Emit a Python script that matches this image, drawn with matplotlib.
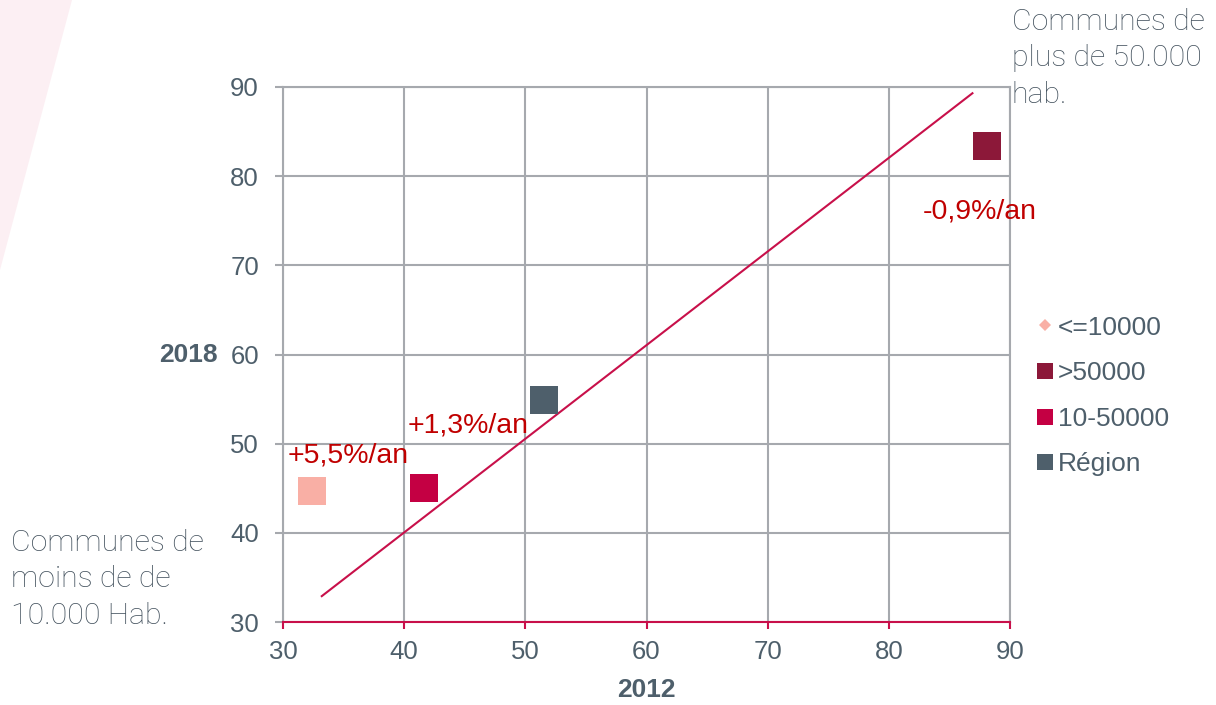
import matplotlib
matplotlib.use('Agg')
import matplotlib.pyplot as plt
from matplotlib.lines import Line2D
from matplotlib.patches import Polygon

plt.rcParams['font.family'] = ['Liberation Sans', 'DejaVu Sans']

# valeurs (2012 en x, 2018 en y)
groups = ['<=10000', '>50000', '10-50000', 'Région']
x2012 = [32.4, 88.1, 41.6, 51.5]
y2018 = [44.7, 83.4, 45.0, 54.9]
colors = ['#F9AFA5', '#8C1839', '#C40043', '#4E5F6B']
legend_markers = ['D', 's', 's', 's']

# droite de reference
ref_x = [33.2, 86.9]
ref_y = [32.9, 89.3]

ticks = [30, 40, 50, 60, 70, 80, 90]
growth = ['+5,5%/an', '+1,3%/an', '-0,9%/an']

grey = '#4E5F6B'
gridc = '#A6A9AE'
crimson = '#C8104A'

fig = plt.figure(figsize=(12.16, 7.05), dpi=100)

# bande rose du fond a gauche
fig.patches.append(Polygon([(0, 1), (72/1216, 1), (0, 1-270/705)], closed=True,
                           transform=fig.transFigure, facecolor='#FCEFF3',
                           edgecolor='none', zorder=0))

ax = fig.add_axes([283/1216, 83/705, 727/1216, 535/705])
ax.set_xlim(30, 90)
ax.set_ylim(30, 90)
ax.set_xticks(ticks)
ax.set_yticks(ticks)
ax.grid(True, color=gridc, linewidth=1.5, zorder=0)
ax.set_axisbelow(True)

for s in ['top', 'right', 'left']:
    ax.spines[s].set_color(gridc)
    ax.spines[s].set_linewidth(1.5)
ax.spines['bottom'].set_color(crimson)
ax.spines['bottom'].set_linewidth(1.5)
ax.spines['bottom'].set_zorder(4)

ax.tick_params(axis='y', colors=gridc, length=5.8, width=1.5, pad=11.5,
               labelsize=18.5, labelcolor=grey)
ax.tick_params(axis='x', colors=crimson, length=5, width=1.5, pad=8,
               labelsize=18.5, labelcolor=grey)

ax.plot(ref_x, ref_y, color=crimson, linewidth=1.5, zorder=2)

for i in range(len(groups)):
    ax.scatter(x2012[i], y2018[i], marker='s', s=19.5**2, color=colors[i],
               linewidths=0, zorder=3)

# taux annuels
ax.text(30.4, 47.9, growth[0], color='#C00000', fontsize=20.5, va='baseline')
ax.text(40.3, 51.3, growth[1], color='#C00000', fontsize=20.5, va='baseline')
ax.text(82.8, 75.3, growth[2], color='#C00000', fontsize=20.5, va='baseline')

ax.set_xlabel('2012', fontsize=19, fontweight='bold', color=grey, va='top')
ax.xaxis.set_label_coords(0.5, -0.105)
ax.set_ylabel('2018', fontsize=19, fontweight='bold', color=grey,
              rotation=0, ha='right', va='center')
ax.yaxis.set_label_coords(-0.0894, 0.5)

handles = []
for i in range(len(groups)):
    ms = 6.5 if legend_markers[i] == 'D' else 11.5
    handles.append(Line2D([], [], linestyle='none', marker=legend_markers[i],
                          markersize=ms, markerfacecolor=colors[i],
                          markeredgewidth=0, label=groups[i]))
fig.legend(handles=handles, loc='center left',
           bbox_to_anchor=(1037/1216, 1-396/705), frameon=False,
           borderpad=0, borderaxespad=0, handlelength=0.6, handletextpad=0.2,
           labelspacing=0.82, fontsize=19, labelcolor=grey)

# textes explicatifs
light = ['Roboto', 'DejaVu Sans']
fig.text(1012/1216, 1-8/705, 'Communes de\nplus de 50.000\nhab.', family=light,
         fontweight='light', fontsize=21.8, color='#44525E', va='top', ha='left',
         linespacing=1.38)
fig.text(11/1216, 1-529/705, 'Communes de\nmoins de de\n10.000 Hab.', family=light,
         fontweight='light', fontsize=21.8, color='#44525E', va='top', ha='left',
         linespacing=1.38)

fig.savefig('out.png', dpi=100)
